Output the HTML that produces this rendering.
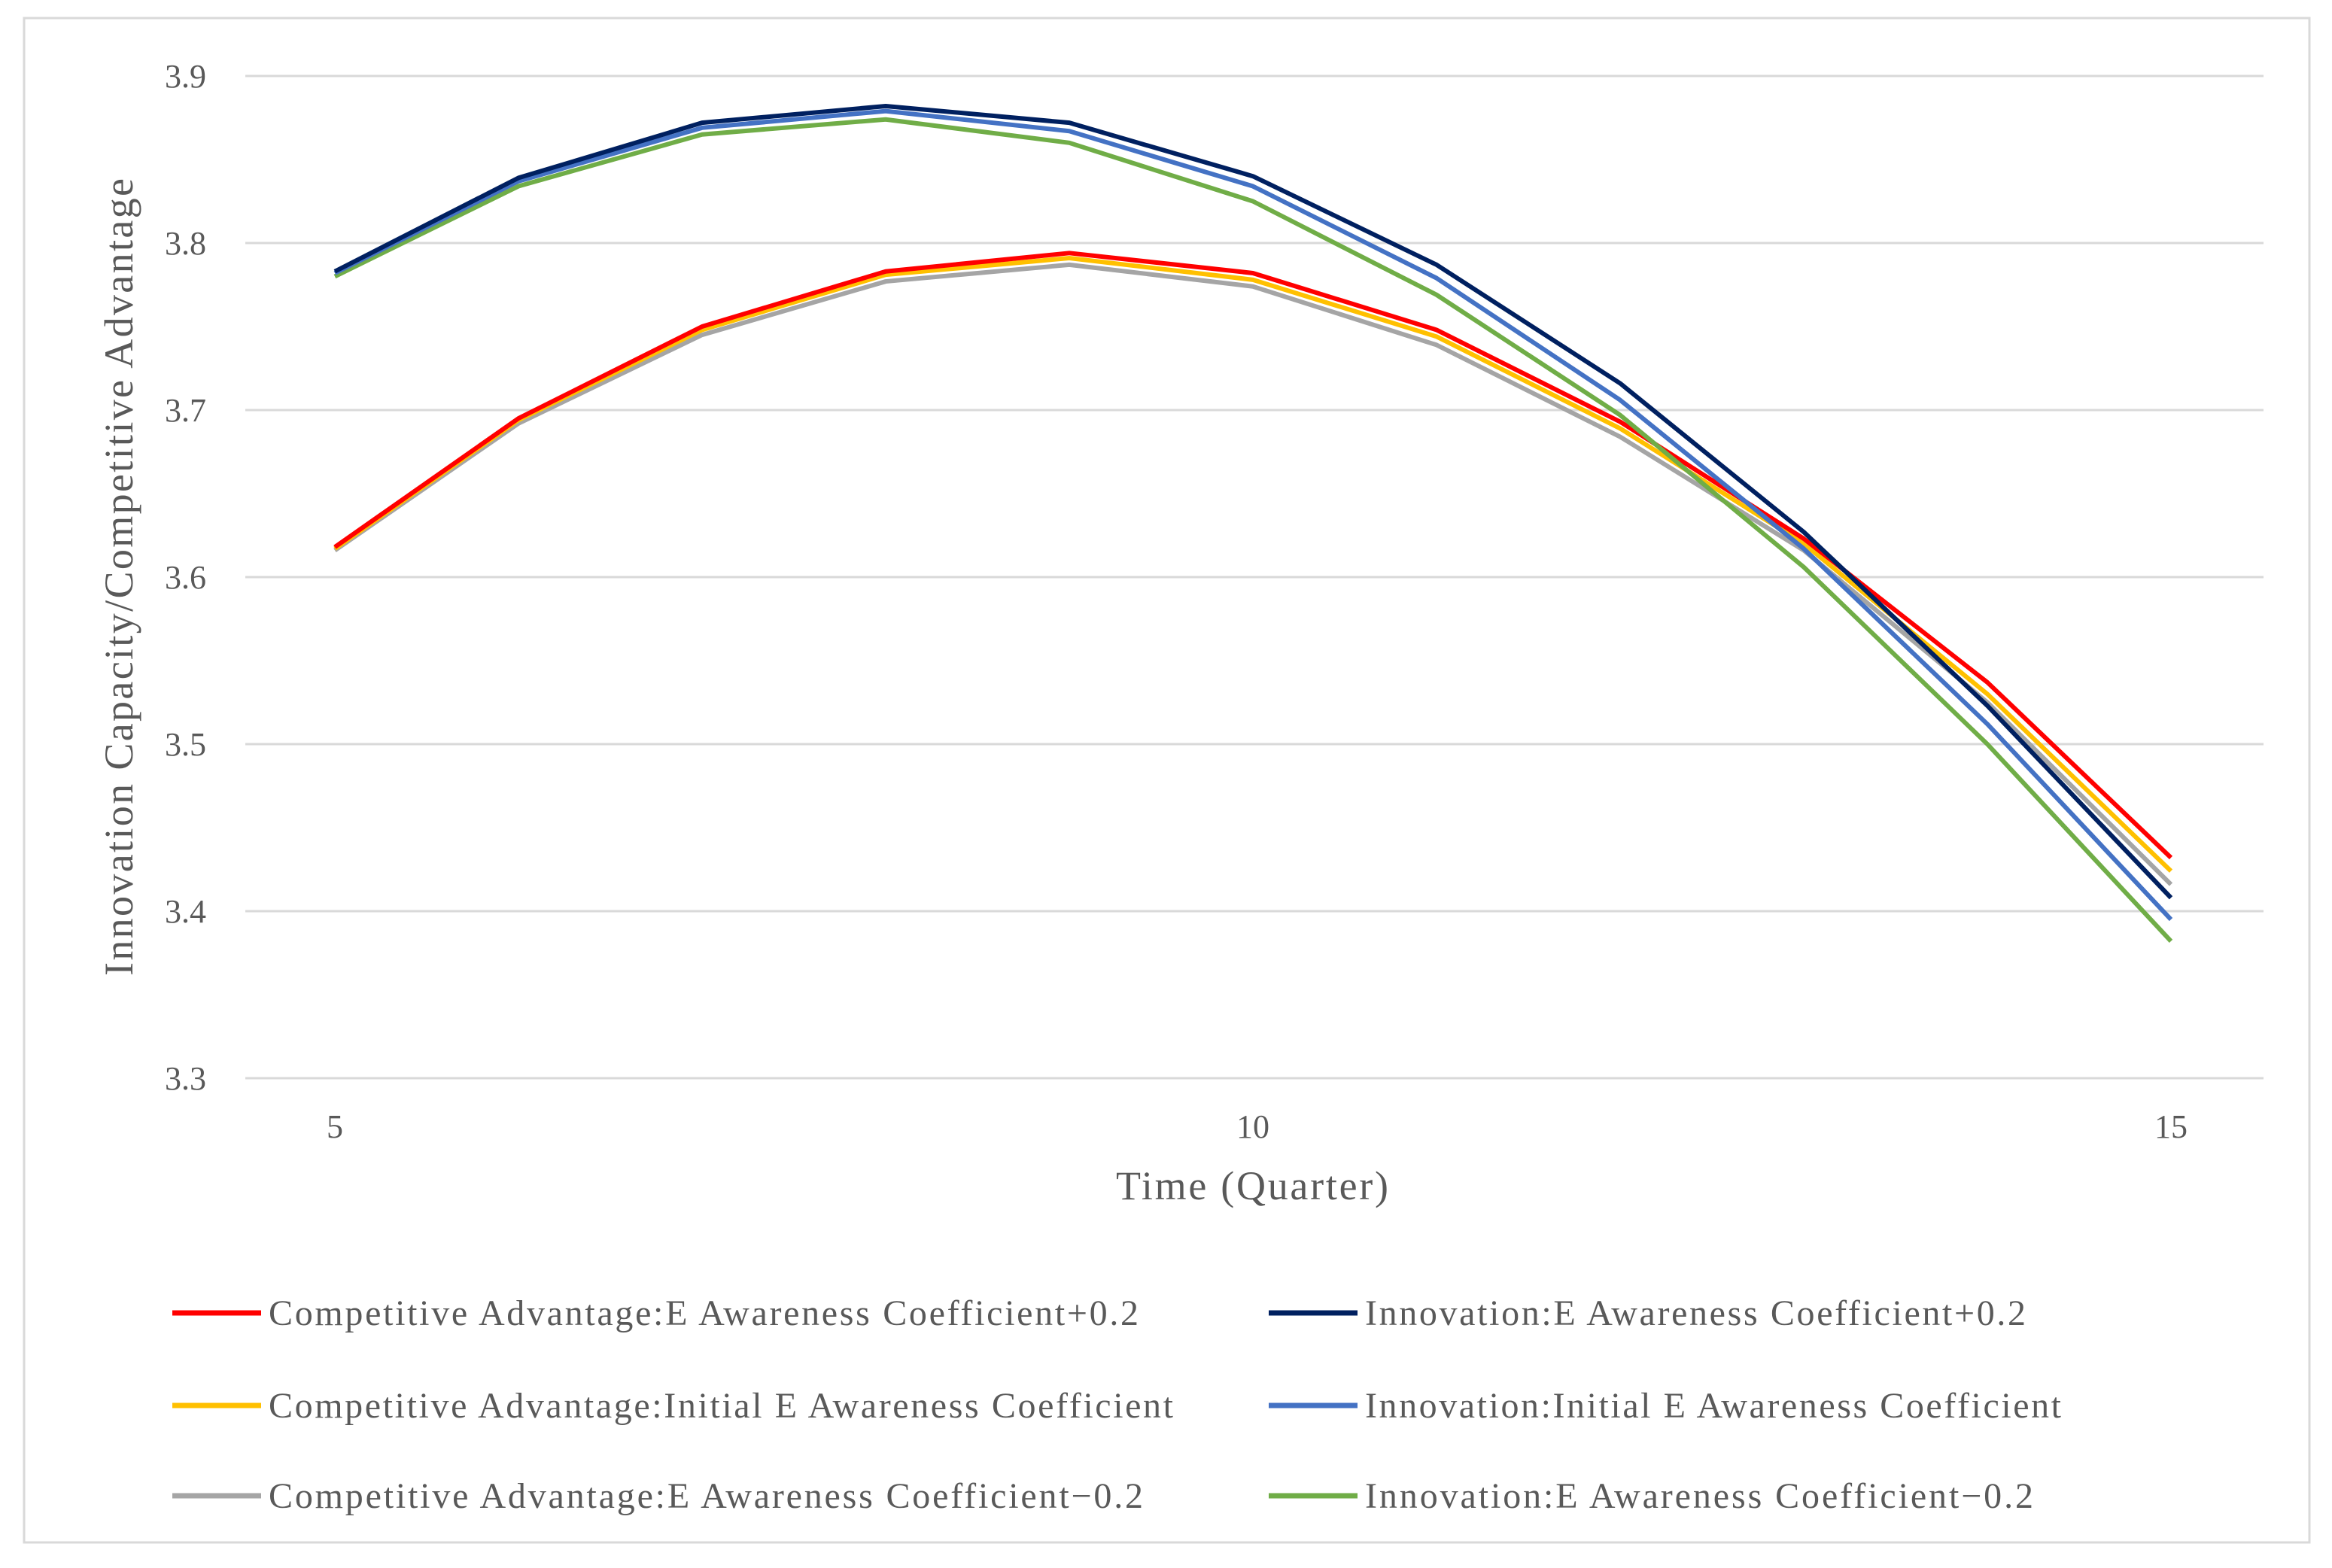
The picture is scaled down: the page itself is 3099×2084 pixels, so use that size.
<!DOCTYPE html>
<html><head><meta charset="utf-8"><style>
html,body{margin:0;padding:0;background:#fff;}
svg{display:block;font-family:"Liberation Serif",serif;}
</style></head><body>
<svg id="chart" width="3099" height="2084" viewBox="0 0 3099 2084" xmlns="http://www.w3.org/2000/svg">
<rect x="32" y="24" width="3037" height="2026" fill="#fff" stroke="#d9d9d9" stroke-width="3"/>
<g id="grid"></g><g id="yticks"></g><g id="xticks"></g><g id="series"></g>
<text transform="translate(176,767) rotate(-90)" text-anchor="middle" font-size="54" fill="#595959" textLength="1060" lengthAdjust="spacing">Innovation Capacity/Competitive Advantage</text>
<text x="1664" y="1594" text-anchor="middle" font-size="54" fill="#595959" textLength="362" lengthAdjust="spacing">Time (Quarter)</text>
<g id="legend"></g>
</svg>
<script>
const xValues=[5,6,7,8,9,10,11,12,13,14,15];
const yTicks=[3.3,3.4,3.5,3.6,3.7,3.8,3.9];
const yTickLabels=["3.3","3.4","3.5","3.6","3.7","3.8","3.9"];
const xTicks=[5,10,15];
const seriesNames=["Competitive Advantage:E Awareness Coefficient+0.2","Innovation:E Awareness Coefficient+0.2","Competitive Advantage:Initial E Awareness Coefficient","Innovation:Initial E Awareness Coefficient","Competitive Advantage:E Awareness Coefficient\u22120.2","Innovation:E Awareness Coefficient\u22120.2"];
const seriesColors=["#ff0000","#002060","#ffc000","#4472c4","#a5a5a5","#70ad47"];
const caPlus=[3.618,3.695,3.750,3.783,3.794,3.782,3.748,3.693,3.623,3.537,3.432];
const innPlus=[3.783,3.839,3.872,3.882,3.872,3.840,3.787,3.716,3.627,3.523,3.408];
const caInit=[3.617,3.694,3.748,3.781,3.791,3.778,3.744,3.689,3.620,3.530,3.424];
const innInit=[3.782,3.837,3.869,3.879,3.867,3.834,3.779,3.706,3.617,3.512,3.395];
const caMinus=[3.616,3.692,3.745,3.777,3.787,3.774,3.739,3.684,3.616,3.525,3.416];
const innMinus=[3.780,3.834,3.865,3.874,3.860,3.825,3.769,3.697,3.606,3.500,3.382];
const seriesData=[caPlus,innPlus,caInit,innInit,caMinus,innMinus];
const NS="http://www.w3.org/2000/svg";
const xS=v=>445+(v-5)*244;
const yS=v=>1433-(v-3.3)*2220;
function mk(tag,attrs,parent){const e=document.createElementNS(NS,tag);for(const k in attrs)e.setAttribute(k,attrs[k]);parent.appendChild(e);return e;}
const grid=document.getElementById('grid'),yt=document.getElementById('yticks'),xt=document.getElementById('xticks');
yTicks.forEach((t,i)=>{
 const l=mk('line',{x1:326,x2:3008,y1:yS(t),y2:yS(t),stroke:'#d9d9d9','stroke-width':3},grid);
 
 
 const tx=mk('text',{x:274,y:yS(t)+15,'text-anchor':'end','font-size':44,fill:'#595959'},yt);
 tx.textContent=yTickLabels[i];
 
 
});
xTicks.forEach(t=>{
 const tx=mk('text',{x:xS(t),y:1512,'text-anchor':'middle','font-size':44,fill:'#595959'},xt);
 tx.textContent=t;
 
 
});
const sg=document.getElementById('series');
const order=[4,2,0,5,3,1];
order.forEach(i=>{
 const pts=seriesData[i].map((v,j)=>xS(xValues[j])+','+yS(v)).join(' ');
 const p=mk('polyline',{points:pts,fill:'none',stroke:seriesColors[i],'stroke-width':6,'stroke-linejoin':'round'},sg);
 
 
});
const lg=document.getElementById('legend');
const rowsY=[1745,1868,1988];
const widths=[1156,878,1202,925,1162,888];
seriesNames.forEach((n,i)=>{
 const col=i%2,row=Math.floor(i/2);
 const x0=col?1686:229,y=rowsY[row];
 const g=mk('g',{},lg);
 
 
 mk('line',{x1:x0,x2:x0+118,y1:y,y2:y,stroke:seriesColors[i],'stroke-width':7},g);
 const t=mk('text',{x:x0+128,y:y+16,'font-size':48,fill:'#595959',textLength:widths[i],lengthAdjust:'spacing'},g);
 t.textContent=n;
});
</script>
</body></html>
